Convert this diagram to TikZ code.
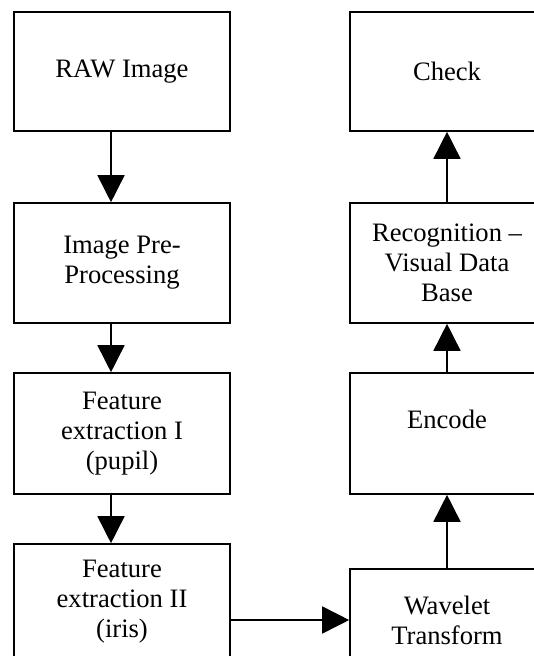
\documentclass[tikz,border=0pt]{standalone}
\usepackage{fontspec}
\setmainfont{Liberation Serif}
\usetikzlibrary{arrows.meta}
\begin{document}
\begin{tikzpicture}[x=1pt,y=-1pt,
  txt/.style={inner sep=0pt, align=center, font=\fontsize{26.6}{30}\selectfont},
  box/.style={txt, draw, line width=1.6pt},
  lbox/.style={box, minimum width=216pt},
  rbox/.style={box, minimum width=194pt},
  flow/.style={line width=1.6pt, -{Triangle[length=27pt,width=27pt]}}]
\useasboundingbox (0,0) rectangle (534,656);
\clip (0,0) rectangle (534,656);
\node[lbox, minimum height=119pt] (raw) at (122,71.5) {RAW Image};
\node[lbox, minimum height=120pt] (pre) at (122,263) {Image Pre-\\Processing};
\node[lbox, minimum height=121pt] (f1) at (122,433.5) {Feature\\extraction I\\(pupil)};
\node[lbox, minimum height=115pt] (f2) at (122,601.5) {Feature\\extraction II\\(iris)};
\node[rbox, minimum height=119pt] (chk) at (447,71.5) {Check};
\node[rbox, minimum height=120pt] (rec) at (447,263) {Recognition –\\Visual Data\\Base};
\node[rbox, minimum height=121pt] (enc) at (447,433.5) {};
\node[txt] (enct) at ([yshift=14pt]enc.center) {Encode};
\node[rbox, minimum height=102pt] (wav) at (447,620) {Wavelet\\Transform};
\draw[flow] ([xshift=-11pt]raw.south) -- ([xshift=-11pt]pre.north);
\draw[flow] ([xshift=-11pt]pre.south) -- ([xshift=-11pt]f1.north);
\draw[flow] ([xshift=-11pt]f1.south) -- ([xshift=-11pt]f2.north);
\draw[flow] (f2.east |- wav.west) -- (wav.west);
\draw[flow] (wav.north) -- (enc.south);
\draw[flow] (enc.north) -- (rec.south);
\draw[flow] (rec.north) -- (chk.south);
\end{tikzpicture}
\end{document}
